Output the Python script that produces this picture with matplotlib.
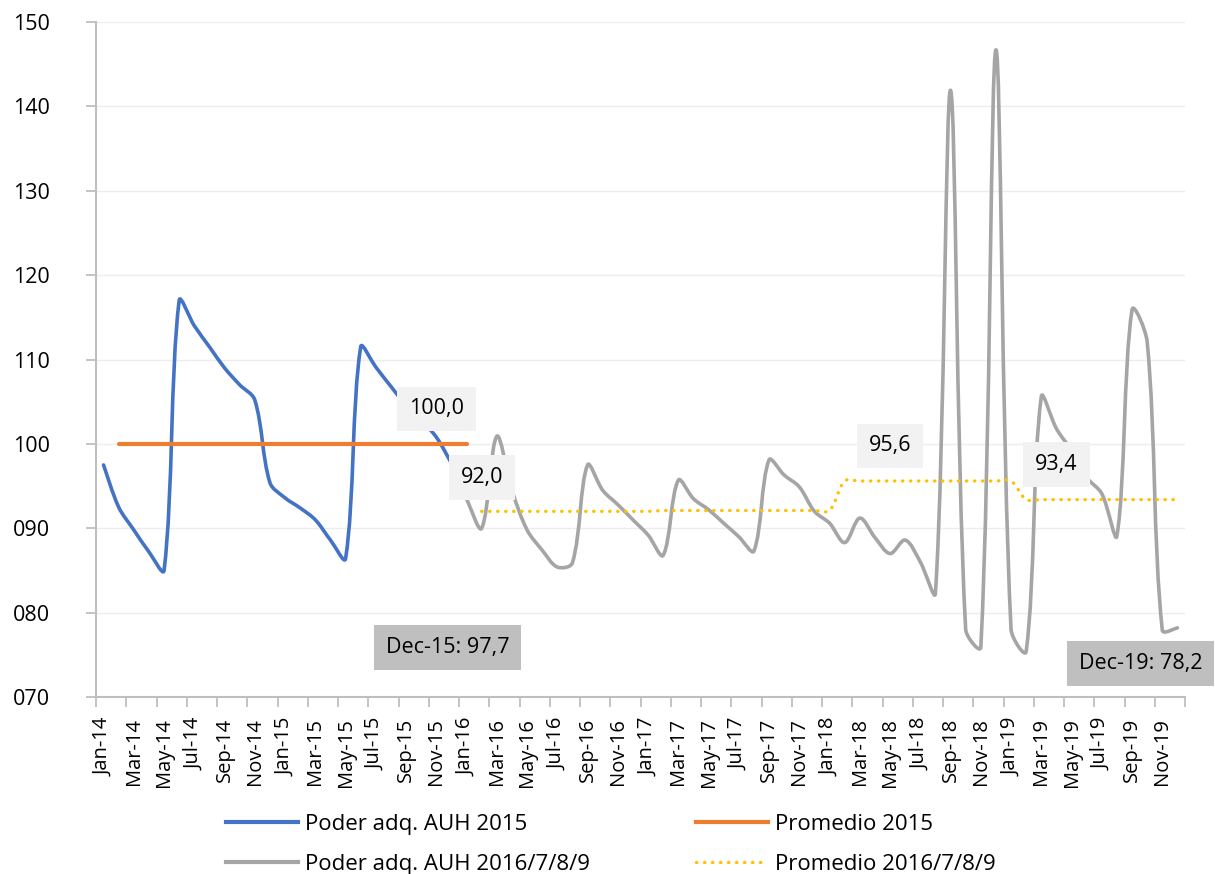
import matplotlib
matplotlib.use("Agg")
import matplotlib.pyplot as plt
import numpy as np
from matplotlib.path import Path
from matplotlib.patches import PathPatch
from matplotlib.lines import Line2D

plt.rcParams['font.family'] = ['Open Sans', 'DejaVu Sans']

# months Jan-14 .. Dec-19
meses = ['Jan', 'Feb', 'Mar', 'Apr', 'May', 'Jun', 'Jul', 'Aug', 'Sep', 'Oct', 'Nov', 'Dec']
etiquetas = ['{}-{}'.format(m, a) for a in range(14, 20) for m in meses]

# Poder adq. AUH 2015 (Jan-14 .. Dec-15)
idx_2015 = list(range(0, 24))
poder_2015 = [97.5, 92.5, 89.8, 87.2, 85.0, 117.0, 114.0, 111.5, 109.0, 107.0, 105.2, 95.4,
              93.6, 92.4, 91.0, 88.6, 86.4, 111.5, 109.1, 106.8, 104.6, 102.8, 100.8, 97.7]

# Promedio 2015
idx_prom_2015 = list(range(1, 25))
prom_2015 = [100.0] * 24

# Poder adq. AUH 2016/7/8/9 (Dec-15 .. Dec-19)
idx_2016_19 = list(range(23, 72))
poder_2016_19 = [97.7, 93.5, 90.0, 100.9, 94.5, 89.8, 87.4, 85.4, 85.9, 97.5, 94.5, 92.8,
                 91.0, 89.2, 86.8, 95.7, 93.5, 92.2, 90.6, 89.0, 87.3, 98.1, 96.3, 94.9,
                 92.0, 90.6, 88.3, 91.2, 88.9, 87.0, 88.6, 86.0, 82.3, 141.9, 78.0, 75.9,
                 146.7, 78.0, 75.4, 105.6, 101.8, 99.2, 96.0, 94.1, 89.1, 115.9, 112.1, 77.9,
                 78.2]

# Promedio 2016/7/8/9
idx_prom_16_19 = list(range(25, 72))
prom_16_19 = [92.0] * 12 + [92.1] * 12 + [95.6] * 12 + [93.4] * 11

azul = '#4472C4'
naranja = '#ED7D31'
gris = '#A5A5A5'
amarillo = '#FFC000'


def curva_suave(ax, x, y):
    # bezier smoothing (like Excel smoothed line), tangents weighted by chord length on screen
    x = np.asarray(x, float)
    y = np.asarray(y, float)
    p = np.column_stack([x, y])
    px = ax.transData.transform(p)
    n = len(x)
    d = np.hypot(*(px[1:] - px[:-1]).T)
    verts = [tuple(p[0])]
    codes = [Path.MOVETO]
    for k in range(n - 1):
        a = k - 1 if k > 0 else k
        b = k + 2 if k + 2 < n else k + 1
        d_prev = d[k - 1] if k > 0 else d[k]
        d_next = d[k + 1] if k + 2 < n else d[k]
        f1 = d[k] / (d_prev + d[k]) / 3.0
        f2 = d[k] / (d[k] + d_next) / 3.0
        c1 = p[k] + (p[k + 1] - p[a]) * f1
        c2 = p[k + 1] - (p[b] - p[k]) * f2
        verts += [tuple(c1), tuple(c2), tuple(p[k + 1])]
        codes += [Path.CURVE4] * 3
    return Path(verts, codes)


fig = plt.figure(figsize=(12.15, 8.74), dpi=100)
ax = fig.add_axes([96 / 1215, 177 / 874, (1185 - 96) / 1215, (697 - 22) / 874])
ax.set_xlim(-0.5, 71.5)
ax.set_ylim(70, 150)

ax.add_patch(PathPatch(curva_suave(ax, idx_2015, poder_2015), fill=False, edgecolor=azul,
                       lw=2.6, capstyle='round', joinstyle='round', zorder=3))
ax.plot(idx_prom_2015, prom_2015, color=naranja, lw=3, solid_capstyle='round', zorder=4)
ax.add_patch(PathPatch(curva_suave(ax, idx_2016_19, poder_2016_19), fill=False, edgecolor=gris,
                       lw=2.6, capstyle='round', joinstyle='round', zorder=3))
ax.add_patch(PathPatch(curva_suave(ax, idx_prom_16_19, prom_16_19), fill=False, edgecolor=amarillo,
                       lw=2.4, linestyle=(0, (0.1, 2.3)), capstyle='round', zorder=4))

ax.set_yticks(range(70, 151, 10))
ax.set_yticklabels(['{:03d}'.format(v) for v in range(70, 151, 10)], fontsize=15.5)
ax.grid(axis='y', color='#EDEDED', lw=1)
ax.set_axisbelow(True)

ax.set_xticks(np.arange(-0.5, 72, 2))
ax.set_xticklabels([])
ax.set_xticks(range(0, 72, 2), minor=True)
ax.set_xticklabels(etiquetas[::2], minor=True, rotation=90, fontsize=14.5)
ax.tick_params(axis='x', which='minor', length=0, pad=15)
ax.tick_params(axis='x', which='major', length=7, color='#BFBFBF', width=1.3)
ax.tick_params(axis='y', length=7, color='#BFBFBF', width=1.3, pad=26)

for s in ['top', 'right']:
    ax.spines[s].set_visible(False)
for s in ['left', 'bottom']:
    ax.spines[s].set_color('#BFBFBF')
    ax.spines[s].set_linewidth(1.5)

# data labels
caja_clara = dict(boxstyle='square,pad=0.55', fc='#F2F2F2', ec='none')
caja_oscura = dict(boxstyle='square,pad=0.55', fc='#BFBFBF', ec='none')
etiq = [
    (22, 100.0, '100,0', 0, 35, caja_clara),
    (25, 92.0, '92,0', 0, 34, caja_clara),
    (52, 95.6, '95,6', 0, 35, caja_clara),
    (63, 93.4, '93,4', 0, 35, caja_clara),
    (23, 97.7, 'Dec-15: 97,7', -4, -184, caja_oscura),
    (71, 78.2, 'Dec-19: 78,2', -37, -36, caja_oscura),
]
for xi, yi, txt, dx, dy, caja in etiq:
    ax.annotate(txt, xy=(xi, yi), xytext=(dx, dy), textcoords='offset pixels',
                ha='center', va='center', fontsize=15.5, bbox=caja, zorder=6,
                annotation_clip=False)

h = [Line2D([], [], color=azul, lw=3),
     Line2D([], [], color=gris, lw=3),
     Line2D([], [], color=naranja, lw=3),
     Line2D([], [], color=amarillo, lw=2.4, linestyle=(0, (0.1, 2.3)), dash_capstyle='round')]
n = ['Poder adq. AUH 2015', 'Poder adq. AUH 2016/7/8/9', 'Promedio 2015', 'Promedio 2016/7/8/9']
fig.legend(h, n, ncol=2, loc='center', bbox_to_anchor=(0.503, 0.0335), frameon=False,
           fontsize=16, handlelength=3.25, handletextpad=0.32, columnspacing=4.75,
           labelspacing=0.85)

fig.savefig('out.png', dpi=100)
